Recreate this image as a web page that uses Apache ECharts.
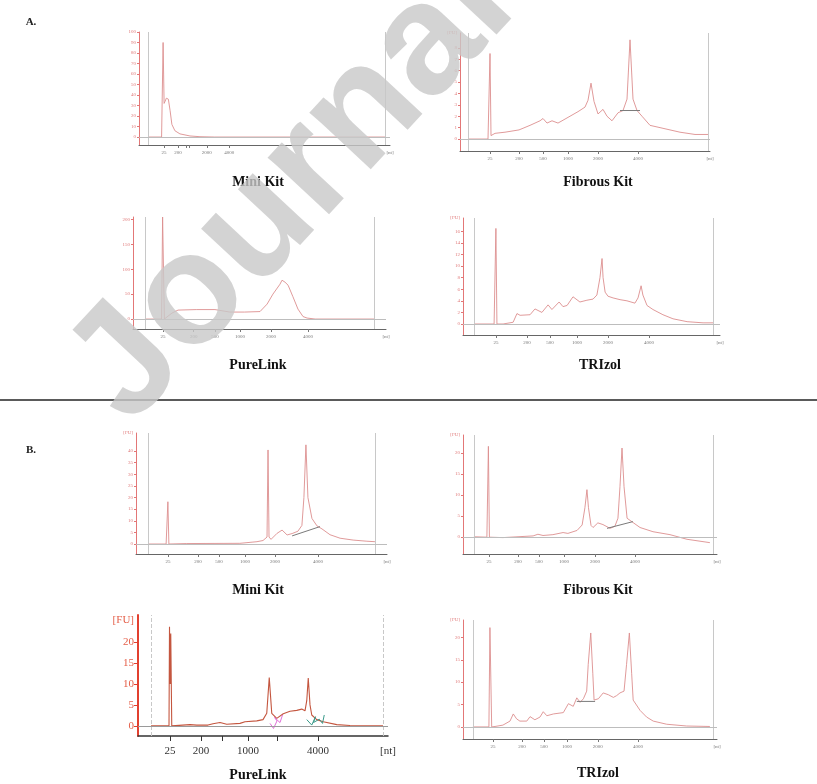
<!DOCTYPE html>
<html><head><meta charset="utf-8">
<script src="https://cdn.jsdelivr.net/npm/echarts@6/dist/echarts.min.js"></script>
<style>html,body{margin:0;padding:0;background:#fff}#c{width:817px;height:784px}</style>
</head><body><div id="c"></div>
<script>
// ---------------- DATA (x = relative migration position 0-100, y = fluorescence [FU]) ----------------
const panelTitles = ['Mini Kit', 'Fibrous Kit', 'PureLink', 'TRIzol', 'Mini Kit', 'Fibrous Kit', 'PureLink', 'TRIzol'];

const ladderLabels = ['25', '200', '500', '1000', '2000', '4000', '[nt]'];
const a1Labels = ['25', '200', '', '', '2000', '4000', '[nt]'];
const b3Labels = ['25', '200', '', '1000', '', '4000', '[nt]'];

const a1TickPos = [10.0, 15.5, 18.7, 20.0, 27.0, 36.0, 100];
const a2TickPos = [12.0, 23.6, 33.2, 43.2, 55.2, 71.2, 100];
const a3TickPos = [11.9, 24.0, 32.4, 42.3, 54.5, 69.2, 100];
const a4TickPos = [12.8, 24.9, 33.9, 44.4, 56.4, 72.4, 100];
const b1TickPos = [12.7, 24.7, 33.1, 43.4, 55.4, 72.5, 100];
const b2TickPos = [10.2, 21.7, 29.9, 39.8, 52.0, 67.7, 100];
const b3TickPos = [12.8, 25.2, 33.6, 44.0, 55.6, 72.0, 100];
const b4TickPos = [11.8, 23.2, 31.9, 40.9, 53.1, 68.9, 100];

const a1YTicks = [0, 10, 20, 30, 40, 50, 60, 70, 80, 90, 100];
const a2YTicks = [0, 1, 2, 3, 4, 5, 6, 7, 8];
const a3YTicks = [0, 50, 100, 150, 200];
const a4YTicks = [0, 2, 4, 6, 8, 10, 12, 14, 16];
const b1YTicks = [0, 5, 10, 15, 20, 25, 30, 35, 40];
const b2YTicks = [0, 5, 10, 15, 20];
const b3YTicks = [0, 5, 10, 15, 20];
const b4YTicks = [0, 5, 10, 15, 20];
const fuLabelLevels = [null, 9.3, null, 18.3, 47.8, 24.3, 25.2, 23.9];

// gray run-window verticals (start / end of the separation window)
const windowMarks = [[3.6, 98], [3.2, 99.2], [4.7, 95.3], [4.3, 97.3], [4.8, 95.2], [4.3, 98.4], [5.2, 98], [3.9, 98.4]];

const a1Trace = [[3.6,0],[9.0,0],[9.3,0],[9.6,90],[10.0,32],[10.4,34],[10.9,37],[11.7,36],[12.4,25],[13.1,12],[14.3,6],[16.3,3],[20.3,1],[24.3,0.3],[30,0],[98,0]];
const a2Trace = [[3.2,0],[11.2,0],[11.6,0],[12,7.5],[12.4,0.3],[14,0.5],[18,0.6],[23.6,0.8],[28,1.2],[32,1.6],[33.2,1.8],[34.8,1.4],[36.8,1.6],[39.2,1.4],[43.2,1.9],[47.2,2.4],[50,2.8],[51.2,3.4],[52.4,4.9],[53.6,3.3],[55.2,2.2],[57.2,2.6],[58.8,2.0],[60.8,1.6],[63.2,2.3],[65.2,2.5],[66.8,3.5],[68,8.7],[69.2,3.5],[70.8,2.5],[72.8,2.0],[76,1.2],[82,0.9],[88,0.6],[94,0.4],[99.2,0.4]];
const a2Under = [[64,2.5],[72,2.5]];
const a3Trace = [[4.7,0],[11.3,0],[11.7,205],[12.1,205],[12.4,0],[13,0],[15.4,12],[17.8,18],[25,19],[32.4,19],[38.3,14],[44,14],[50.2,15],[53,30],[55.3,50],[58.1,70],[58.9,78],[60.1,74],[61.3,68],[63.2,45],[65.2,20],[67.2,5],[68.8,2],[72,0],[95.3,0]];
const a4Trace = [[4.3,0],[12.1,0],[12.5,0],[12.8,16.5],[13.2,0],[13.6,-0.3],[15.6,0],[19.5,0.3],[21,1.8],[22.2,1.5],[26.1,1.6],[28,2.6],[30.7,2.0],[33.1,3.3],[34.6,2.5],[37.4,3.8],[38.9,3.0],[40.5,3.2],[42.8,4.7],[45.5,3.8],[48.2,4.1],[50.6,4.3],[52.1,5.0],[53.3,8],[54.1,11.3],[54.5,8],[55.3,5.5],[56.4,4.8],[58.4,4.5],[61.1,4.2],[63.8,4.0],[66.9,3.6],[68.1,4.5],[69.3,6.6],[70,5.0],[71.6,3.2],[73.9,2.5],[77.8,1.6],[81.7,0.9],[87.2,0.4],[93.4,0.2],[97.3,0.2]];
const b1Trace = [[4.8,0],[12,0],[12.4,0],[12.7,18.2],[13.1,0],[20,0.2],[41.4,0.3],[48.2,1.0],[50.6,1.5],[52.2,3],[52.6,40.5],[53,3],[53.8,2],[56.2,4.6],[58.2,6],[60.2,3.9],[62.2,4.5],[64.5,5.5],[66.1,8],[66.9,20],[67.7,42.7],[68.5,20],[70.1,11],[72.1,7.8],[74.1,6.5],[77.3,4],[81.3,2.5],[86.5,1.7],[92,1.2],[95.2,1.0]];
const b1Under = [[62.2,3.5],[73.3,7.5]];
const b2Trace = [[4.3,0.1],[9.4,0],[9.8,0],[10,21.6],[10.4,0],[10.6,-0.2],[15.7,-0.1],[27.6,0.3],[29.5,0.7],[31.5,0.4],[35.4,0.6],[39.4,1.1],[41.3,0.9],[44.9,1.6],[46.9,2.9],[48,7],[48.8,11.3],[49.4,7],[50.4,2.8],[51.2,2.3],[53.1,3.4],[55.1,3.0],[57.9,2.1],[59.8,2.6],[61,4.5],[61.8,12],[62.6,21.2],[63.4,12],[64.6,4.5],[66.9,3.5],[69.7,2.3],[74.8,1.3],[81.5,0.6],[88.2,-0.5],[97.2,-1.3]];
const b2Under = [[56.7,2.1],[66.9,3.7]];
const b3Trace = [[5.2,0],[12.4,0],[12.6,23.6],[12.9,10],[13.1,22],[13.5,0],[20.8,0.3],[23.5,0.2],[28,0.2],[30,0.5],[32.8,0.8],[35.5,0.4],[40.8,0.6],[42.8,1.0],[47.5,1.2],[50,1.5],[51.5,3],[52.5,11.5],[53.5,3],[55.5,1.8],[58.1,2.9],[60.8,3.5],[63.5,3.7],[65.5,4.0],[66.8,3.6],[67.5,6],[68.1,11.4],[68.8,5],[69.5,2.6],[71.5,1.5],[74.1,1.0],[79.5,0.3],[84.8,0.1],[98,0]];
const b3Pink = [[52.8,0.6],[54.2,-0.6],[55.6,1.2],[54.6,2.0],[56.8,0.8],[57.8,2.6]];
const b3Teal = [[67.5,1.5],[69.5,0.2],[71,2.2],[70.2,0.8],[72.5,1.6],[73.8,0.6],[74.5,2.6]];
const b4Trace = [[3.9,0],[10.2,0],[10.6,22.2],[11.3,0],[12.6,0.1],[15.7,0.4],[18.5,1.3],[19.8,2.9],[21.1,1.8],[22.4,1.3],[25.1,1.3],[26.4,2.3],[28.3,1.6],[30.3,2.2],[31.6,3.4],[33,2.5],[35.6,2.9],[39.5,3.2],[41.5,5.2],[43.4,4.6],[44.8,6.5],[46.1,5.5],[47.4,6.3],[48.7,8],[49.3,14],[50.3,21.0],[51.1,12],[51.6,6],[53.3,6.3],[55.2,7.6],[57.2,7.2],[59.2,6.6],[60.5,7.0],[61.8,7.6],[63.4,8],[64.4,14],[65.5,21.0],[66.4,12],[67,6],[69.7,3.7],[72.3,2.2],[74.9,1.3],[80.2,0.6],[88.1,0.2],[97.2,0.1]];
const b4Under = [[44.8,5.7],[52,5.7]];

// ---------------- LAYOUT (positions / styles) ----------------
const layout = [
  {left:139, top:32,  width:251, height:113, ymin:-7.6, ymax:100},
  {left:460, top:33,  width:250, height:118, ymin:-1.05, ymax:9.3},
  {left:133, top:217, width:253, height:112, ymin:-20, ymax:205},
  {left:463, top:218, width:257, height:117, ymin:-1.9, ymax:18.3},
  {left:136, top:433, width:251, height:121, ymin:-4.3, ymax:47.8},
  {left:463, top:435, width:254, height:119, ymin:-4.0, ymax:24.3},
  {left:138, top:615, width:250, height:121, ymin:-2.4, ymax:26.4},
  {left:463, top:620, width:254, height:119, ymin:-2.7, ymax:23.9}
];
const titlePos = [[258,182],[598,182],[258,365],[600,365],[258,590],[598,590],[258,775],[598,773]];

const traces = [a1Trace, a2Trace, a3Trace, a4Trace, b1Trace, b2Trace, b3Trace, b4Trace];
const unders = [null, a2Under, null, null, b1Under, b2Under, null, b4Under];
const xTicks = [a1TickPos, a2TickPos, a3TickPos, a4TickPos, b1TickPos, b2TickPos, b3TickPos, b4TickPos];
const xLabels = [a1Labels, ladderLabels, ladderLabels, ladderLabels, ladderLabels, ladderLabels, b3Labels, ladderLabels];
const yTicks = [a1YTicks, a2YTicks, a3YTicks, a4YTicks, b1YTicks, b2YTicks, b3YTicks, b4YTicks];

const SERIF = '"Liberation Serif", "DejaVu Serif", serif';
const grids = [], xAxes = [], yAxes = [], series = [];

layout.forEach((L, i) => {
  const sharp = (i === 6);
  grids.push({left:L.left, top:L.top, width:L.width, height:L.height});
  const xt = xTicks[i], xl = xLabels[i];
  xAxes.push({
    type:'value', gridIndex:i, min:0, max:100,
    axisLine:{onZero:false, lineStyle:{color: sharp ? '#333' : '#666', width: sharp ? 1.5 : 1}},
    splitLine:{show:false},
    axisTick:{customValues: xt.slice(0, 6), length: sharp ? 5 : 3, lineStyle:{color: sharp ? '#333' : '#777'}},
    axisLabel:{customValues: xt, formatter: v => { const k = xt.indexOf(v); return k >= 0 ? xl[k] : ''; },
      fontSize: sharp ? 11 : 5, color: sharp ? '#333' : '#777', margin: sharp ? 10 : 5, fontFamily: SERIF}
  });
  const yt = yTicks[i], fu = fuLabelLevels[i];
  const yLabVals = fu === null ? yt : yt.concat([fu]);
  yAxes.push({
    type:'value', gridIndex:i, min:L.ymin, max:L.ymax,
    axisLine:{show:true, onZero:false, lineStyle:{color: sharp ? '#e2402f' : '#e37777', width: sharp ? 2 : 1}},
    splitLine:{show:false},
    axisTick:{show:true, customValues: yt, length: sharp ? 4 : 2, lineStyle:{color: sharp ? '#e2402f' : '#e37777'}},
    axisLabel:{customValues: yLabVals, formatter: v => (v === fu ? '[FU]' : String(v)),
      fontSize: sharp ? 11 : 5, color: sharp ? '#e5604a' : '#e07a7a', margin: sharp ? 4 : 3, fontFamily: SERIF}
  });
  const w = windowMarks[i];
  series.push({
    type:'line', xAxisIndex:i, yAxisIndex:i, data:traces[i], symbol:'none',
    lineStyle:{color: sharp ? '#c4563f' : '#dc8e8e', width: sharp ? 1.1 : 0.9},
    z: 3,
    markLine:{
      silent:true, symbol:'none', label:{show:false}, animation:false,
      data:[
        {xAxis:w[0], lineStyle:{color:'#c8c8c8', width:1, type: sharp ? 'dashed' : 'solid'}},
        {xAxis:w[1], lineStyle:{color:'#c8c8c8', width:1, type: sharp ? 'dashed' : 'solid'}},
        {yAxis:0, lineStyle:{color: sharp ? '#9a9a9a' : '#bdbdbd', width:1, type:'solid'}}
      ]
    }
  });
  if (unders[i]) {
    series.push({type:'line', xAxisIndex:i, yAxisIndex:i, data:unders[i], symbol:'none',
      lineStyle:{color:'#7a7a7a', width:1}, z:4});
  }
  if (sharp) {
    series.push({type:'line', xAxisIndex:i, yAxisIndex:i, data:b3Pink, symbol:'none',
      lineStyle:{color:'#e070d8', width:1}, z:4});
    series.push({type:'line', xAxisIndex:i, yAxisIndex:i, data:b3Teal, symbol:'none',
      lineStyle:{color:'#3a9a8a', width:1}, z:4});
  }
});

const graphics = [];
panelTitles.forEach((t, i) => {
  graphics.push({type:'text', x:titlePos[i][0], y:titlePos[i][1], z:50,
    style:{text:t, font:'bold 14px ' + SERIF, fill:'#111', textAlign:'center', textVerticalAlign:'middle'}});
});
graphics.push({type:'text', x:31, y:22, z:50, style:{text:'A.', font:'bold 11px ' + SERIF, fill:'#222', textAlign:'center', textVerticalAlign:'middle'}});
graphics.push({type:'text', x:31, y:450, z:50, style:{text:'B.', font:'bold 11px ' + SERIF, fill:'#222', textAlign:'center', textVerticalAlign:'middle'}});
graphics.push({type:'line', z:50, shape:{x1:0, y1:400, x2:817, y2:400}, style:{stroke:'#5a5a5a', lineWidth:2}});
// diagonal watermark
graphics.push({type:'text', x:98, y:398, rotation: 47 * Math.PI / 180, z:100, silent:true,
  style:{text:'Journal', font:'bold 158px "Liberation Sans", Arial, sans-serif',
    fill:'rgba(200,200,200,0.8)', textAlign:'left', textVerticalAlign:'middle'}});

const chart = echarts.init(document.getElementById('c'), null, {renderer:'canvas'});
chart.setOption({
  animation:false,
  backgroundColor:'#ffffff',
  grid:grids, xAxis:xAxes, yAxis:yAxes, series:series, graphic:graphics
});
</script></body></html>
